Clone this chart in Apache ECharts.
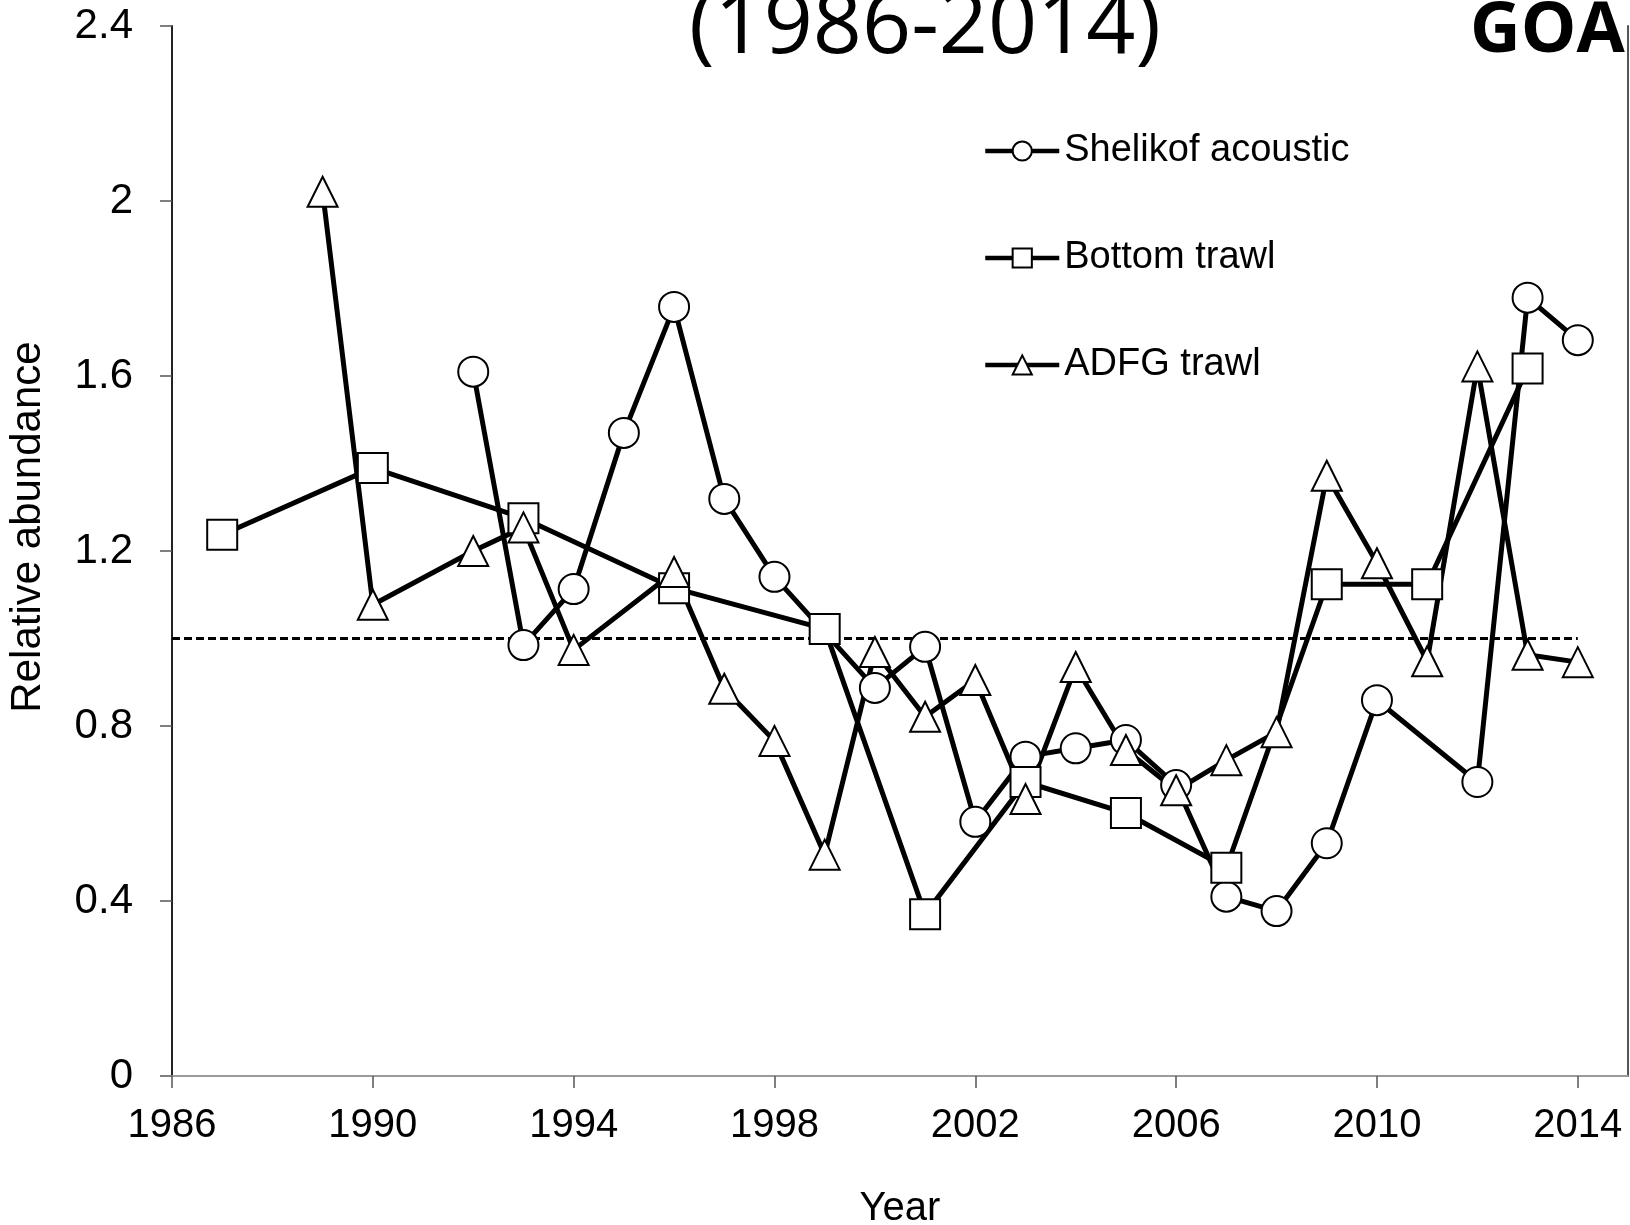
<!DOCTYPE html>
<html lang="en">
<head>
<meta charset="UTF-8"/>
<title>GOA relative abundance (1986-2014)</title>
<script src="https://cdn.jsdelivr.net/npm/echarts@6/dist/echarts.min.js"></script>
<style>html,body{margin:0;padding:0;background:#fff;}</style>
</head>
<body>
<div id="main" style="width:1630px;height:1225px;"></div>
<script type="text/javascript">
// values (relative abundance, mean = 1)
var shelikofYears  = [1992, 1993, 1994, 1995, 1996, 1997, 1998, 2000, 2001, 2002, 2003, 2004, 2005, 2006, 2007, 2008, 2009, 2010, 2012, 2013, 2014];
var shelikofValues = [1.61, 0.985, 1.113, 1.47, 1.758, 1.319, 1.141, 0.887, 0.981, 0.581, 0.73, 0.749, 0.768, 0.665, 0.41, 0.377, 0.532, 0.859, 0.672, 1.779, 1.682];

var bottomYears  = [1987, 1990, 1993, 1996, 1999, 2001, 2003, 2005, 2007, 2009, 2011, 2013];
var bottomValues = [1.237, 1.39, 1.275, 1.115, 1.022, 0.37, 0.672, 0.601, 0.476, 1.124, 1.124, 1.617];

var adfgYears  = [1989, 1990, 1992, 1993, 1994, 1996, 1997, 1998, 1999, 2000, 2001, 2002, 2003, 2004, 2005, 2006, 2007, 2008, 2009, 2010, 2011, 2012, 2013, 2014];
var adfgValues = [2.021, 1.077, 1.2, 1.254, 0.974, 1.152, 0.885, 0.766, 0.506, 0.969, 0.821, 0.905, 0.633, 0.935, 0.745, 0.653, 0.722, 0.786, 1.372, 1.172, 0.948, 1.622, 0.963, 0.946];

var yearTicks = [1986, 1990, 1994, 1998, 2002, 2006, 2010, 2014];
var meanLine = [[1986, 1], [2014, 1]];

var seriesNames = ['Shelikof acoustic', 'Bottom trawl', 'ADFG trawl'];

var FONT = '"Liberation Sans", Arial, sans-serif';

function pairs(xs, ys) {
    return xs.map(function (x, i) { return [x, ys[i]]; });
}

function survey(name, symbol, xs, ys) {
    return {
        name: name,
        type: 'line',
        data: pairs(xs, ys),
        symbol: symbol,
        symbolSize: 30,
        lineStyle: { color: '#000', width: 5 },
        itemStyle: { color: '#fff', borderColor: '#000', borderWidth: 2 },
        emphasis: { disabled: true }
    };
}

var myChart = echarts.init(document.getElementById('main'));

var option = {
    backgroundColor: '#fff',
    animation: false,
    grid: { left: 172, right: 2, top: 26, bottom: 149, outerBoundsMode: 'none' },
    legend: {
        data: seriesNames,
        orient: 'vertical',
        left: 983,
        top: 131,
        padding: 0,
        itemWidth: 74,
        itemHeight: 24,
        itemGap: 67,
        selectedMode: false,
        lineStyle: { width: 4.5 },
        textStyle: { fontSize: 38, lineHeight: 40, color: '#000', fontFamily: FONT }
    },
    xAxis: [{
        type: 'value',
        min: 1986,
        max: 2015,
        axisLine: { show: true, onZero: false, lineStyle: { color: '#222', width: 2 } },
        axisTick: { show: true, customValues: yearTicks, length: 12, lineStyle: { color: '#555', width: 1.5 } },
        axisLabel: {
            customValues: yearTicks,
            formatter: function (v) { return String(v); },
            margin: 30, fontSize: 40, color: '#000', fontFamily: FONT
        },
        splitLine: { show: false },
        name: 'Year',
        nameLocation: 'middle',
        nameGap: 113,
        nameTextStyle: { fontSize: 40, color: '#000', fontFamily: FONT }
    }, {
        type: 'value',
        min: 1986,
        max: 2015,
        position: 'top',
        axisLine: { show: true, lineStyle: { color: '#9a9a9a', width: 2 } },
        axisTick: { show: false },
        axisLabel: { show: false },
        splitLine: { show: false }
    }],
    yAxis: [{
        type: 'value',
        min: 0,
        max: 2.4,
        interval: 0.4,
        axisLine: { show: true, lineStyle: { color: '#222', width: 2 } },
        axisTick: { show: true, length: 12, lineStyle: { color: '#555', width: 1.5 } },
        axisLabel: { margin: 39, fontSize: 42, color: '#000', fontFamily: FONT },
        splitLine: { show: false }
    }, {
        type: 'value',
        min: 0,
        max: 2.4,
        interval: 0.4,
        position: 'right',
        axisLine: { show: true, lineStyle: { color: '#555', width: 2 } },
        axisTick: { show: false },
        axisLabel: { show: false },
        splitLine: { show: false }
    }],
    graphic: [{
        type: 'text',
        x: 925,
        y: 28,
        z: 100,
        style: { text: '(1986-2014)', font: '400 86px "Open Sans"', textAlign: 'center', textVerticalAlign: 'middle', fill: '#000' }
    }, {
        type: 'text',
        x: 1470,
        y: 32,
        z: 100,
        style: { text: 'GOA', font: '700 70px "Open Sans"', textAlign: 'left', textVerticalAlign: 'middle', fill: '#000' }
    }, {
        type: 'text',
        x: 28,
        y: 527,
        rotation: Math.PI / 2,
        style: { text: 'Relative abundance', font: '42px "Liberation Sans", Arial', textAlign: 'center', textVerticalAlign: 'middle', fill: '#000' }
    }],
    series: [{
        name: 'mean',
        type: 'line',
        data: meanLine,
        symbol: 'none',
        silent: true,
        lineStyle: { color: '#000', width: 3, type: [8, 4] },
        emphasis: { disabled: true }
    },
        survey(seriesNames[0], 'circle', shelikofYears, shelikofValues),
        survey(seriesNames[1], 'rect', bottomYears, bottomValues),
        survey(seriesNames[2], 'triangle', adfgYears, adfgValues)
    ]
};

myChart.setOption(option);
</script>
</body>
</html>
